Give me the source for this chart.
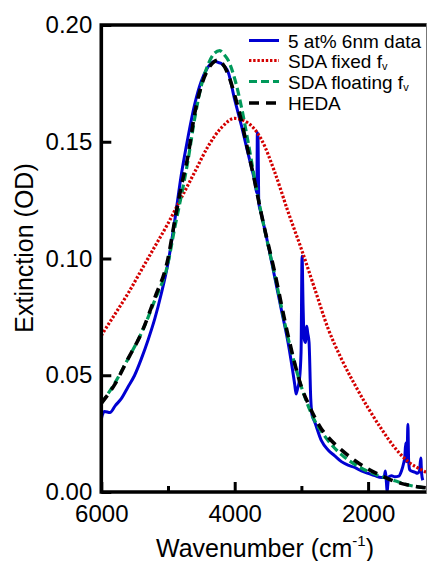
<!DOCTYPE html>
<html>
<head>
<meta charset="utf-8">
<script src="https://cdn.jsdelivr.net/npm/d3@7"></script>
<style>
    body { margin: 0; background: #fff; }
    svg { display: block; font-family: 'Liberation Sans', Arial, sans-serif; }
</style>
</head>
<body>
<div id="chart"></div>
<script>
// [wavenumber (cm-1), extinction (OD)]
const measured = [
    [6000, 0.031], [5985, 0.033], [5950, 0.0345], [5870, 0.034], [5790, 0.037],
    [5700, 0.040], [5600, 0.045], [5500, 0.050], [5400, 0.057], [5300, 0.065],
    [5200, 0.074], [5100, 0.085], [5000, 0.098], [4900, 0.116], [4800, 0.136],
    [4700, 0.152], [4600, 0.166], [4500, 0.176], [4400, 0.182], [4300, 0.1845],
    [4250, 0.184], [4200, 0.1835], [4100, 0.180], [4000, 0.168], [3900, 0.157],
    [3800, 0.145], [3700, 0.133], [3668, 0.128], [3660, 0.154], [3650, 0.152],
    [3640, 0.124], [3600, 0.119], [3500, 0.106], [3400, 0.092], [3300, 0.078],
    [3200, 0.064], [3100, 0.046], [3080, 0.042], [3060, 0.044], [3030, 0.048],
    [3005, 0.060], [2990, 0.101], [2975, 0.080], [2960, 0.066], [2940, 0.064],
    [2920, 0.071], [2905, 0.068], [2885, 0.064], [2860, 0.040], [2840, 0.033],
    [2800, 0.030], [2700, 0.022], [2600, 0.018], [2500, 0.0155], [2400, 0.013],
    [2300, 0.0115], [2200, 0.0105], [2100, 0.009], [2000, 0.008], [1900, 0.007],
    [1800, 0.0062], [1760, 0.0065], [1740, 0.009], [1725, 0.004], [1715, 0.0],
    [1705, 0.003], [1690, 0.0065], [1650, 0.007], [1600, 0.0065], [1540, 0.0068],
    [1500, 0.009], [1470, 0.012], [1450, 0.015], [1435, 0.021], [1425, 0.013],
    [1415, 0.016], [1403, 0.029], [1392, 0.013], [1375, 0.0095], [1350, 0.009],
    [1300, 0.0085], [1260, 0.008], [1230, 0.009], [1210, 0.0146], [1198, 0.008],
    [1180, 0.005]
];

const sdaFixed = [
    [6000, 0.067], [5800, 0.076], [5600, 0.085], [5400, 0.095], [5200, 0.105],
    [5000, 0.115], [4800, 0.126], [4600, 0.137], [4400, 0.148], [4200, 0.156],
    [4000, 0.160], [3800, 0.158], [3600, 0.151], [3400, 0.137], [3200, 0.120],
    [3000, 0.104], [2800, 0.087], [2600, 0.070], [2400, 0.057], [2200, 0.046],
    [2000, 0.036], [1800, 0.027], [1600, 0.019], [1400, 0.013], [1200, 0.0095],
    [1100, 0.008]
];

const sdaFloating = [
    [6000, 0.038], [5800, 0.0465], [5600, 0.057], [5400, 0.068], [5200, 0.082],
    [5000, 0.098], [4900, 0.113], [4800, 0.127], [4700, 0.142], [4600, 0.160],
    [4500, 0.174], [4400, 0.183], [4300, 0.188], [4224, 0.189], [4150, 0.187],
    [4100, 0.185], [4000, 0.177], [3900, 0.165], [3800, 0.150], [3700, 0.134],
    [3600, 0.119], [3400, 0.093], [3200, 0.066], [3000, 0.045], [2900, 0.037],
    [2800, 0.0305], [2700, 0.026], [2600, 0.022], [2400, 0.016], [2200, 0.0118],
    [2000, 0.0088], [1800, 0.0066], [1600, 0.0048], [1400, 0.003], [1200, 0.002],
    [1100, 0.0017]
];

const heda = [
    [6000, 0.038], [5800, 0.046], [5600, 0.057], [5400, 0.068], [5200, 0.083],
    [5000, 0.100], [4900, 0.116], [4800, 0.131], [4700, 0.144], [4600, 0.162],
    [4500, 0.174], [4400, 0.181], [4300, 0.1845], [4250, 0.185], [4200, 0.184],
    [4100, 0.179], [4000, 0.170], [3900, 0.159], [3800, 0.146], [3700, 0.133],
    [3600, 0.119], [3400, 0.094], [3200, 0.067], [3000, 0.045], [2900, 0.038],
    [2800, 0.032], [2700, 0.027], [2600, 0.0235], [2400, 0.018], [2200, 0.0135],
    [2000, 0.0098], [1800, 0.007], [1600, 0.0045], [1400, 0.003], [1200, 0.002],
    [1100, 0.0017]
];

const seriesNames = ['5 at% 6nm data', 'SDA fixed f', 'SDA floating f', 'HEDA'];
const seriesSubs = ['', 'v', 'v', ''];
const xTicks = [6000, 5000, 4000, 3000, 2000, 1000];
const xLabelled = [6000, 4000, 2000];
const yTicks = [0, 0.05, 0.1, 0.15, 0.2];

const width = 427;
const height = 561;
const margin = { top: 25, left: 101.3, bottom: 69 };

const svg = d3
    .select('#chart')
    .append('svg')
    .attr('width', width)
    .attr('height', height);

const xScale = d3
    .scaleLinear()
    .domain([6000, 1000])
    .range([margin.left, margin.left + 5 * 66.7]);

const yScale = d3
    .scaleLinear()
    .domain([0, 0.2])
    .range([height - margin.bottom, margin.top]);

svg.append('clipPath')
    .attr('id', 'plot-clip')
    .append('rect')
    .attr('x', xScale(6000))
    .attr('y', yScale(0.2))
    .attr('width', width - xScale(6000))
    .attr('height', yScale(0) - yScale(0.2));

const series = [
    { data: measured, color: '#0000d2', width: 3, dash: null },
    { data: sdaFixed, color: '#d40000', width: 3.2, dash: '2.4,1.8' },
    { data: sdaFloating, color: '#00995a', width: 3.2, dash: '8,4' },
    { data: heda, color: '#000000', width: 3.6, dash: '10,7' },
];

const line = d3
    .line()
    .x((d) => xScale(d[0]))
    .y((d) => yScale(d[1]))
    .curve(d3.curveMonotoneX);

svg.append('g')
    .attr('clip-path', 'url(#plot-clip)')
    .selectAll('path')
    .data(series)
    .join('path')
    .attr('d', (s) => line(s.data))
    .attr('fill', 'none')
    .attr('stroke', (s) => s.color)
    .attr('stroke-width', (s) => s.width)
    .attr('stroke-dasharray', (s) => s.dash)
    .attr('stroke-linejoin', 'round');

// axes, ticks point inwards
const yAxis = svg
    .append('g')
    .attr('transform', `translate(${xScale(6000)},0)`)
    .call(
        d3
            .axisLeft(yScale)
            .tickValues(yTicks)
            .tickSizeInner(-10)
            .tickSizeOuter(0)
            .tickPadding(9)
            .tickFormat(d3.format('.2f'))
    );

const xAxis = svg
    .append('g')
    .attr('transform', `translate(0,${yScale(0)})`)
    .call(
        d3
            .axisBottom(xScale)
            .tickValues(xTicks)
            .tickSizeInner(-10)
            .tickSizeOuter(0)
            .tickPadding(13)
            .tickFormat((d) => (xLabelled.includes(d) ? d : ''))
    );

xAxis
    .selectAll('.tick line')
    .attr('y2', (d) => (xLabelled.includes(d) ? -10 : -6));

[xAxis, yAxis].forEach((ax) => {
    ax.select('.domain').remove();
    ax.selectAll('.tick line').attr('stroke', '#000').attr('stroke-width', 3);
    ax.selectAll('.tick text')
        .attr('fill', '#000')
        .attr('font-size', '24px')
        .attr('font-family', "'Liberation Sans', Arial, sans-serif");
});

svg.append('path')
    .attr(
        'd',
        `M${width},${yScale(0.2)}H${xScale(6000)}V${yScale(0)}H${width}`
    )
    .attr('fill', 'none')
    .attr('stroke', '#000')
    .attr('stroke-width', 3.6)
    .attr('stroke-linecap', 'square');

svg.append('line')
    .attr('x1', 426.5)
    .attr('x2', 426.5)
    .attr('y1', yScale(0.2) - 2)
    .attr('y2', yScale(0) + 2)
    .attr('stroke', '#777')
    .attr('stroke-width', 1);

// axis titles
const xTitle = svg
    .append('text')
    .attr('x', 265)
    .attr('y', 557)
    .attr('text-anchor', 'middle')
    .attr('font-size', '25px');
xTitle.append('tspan').text('Wavenumber (cm');
xTitle.append('tspan').attr('font-size', '15px').attr('dy', -11).text('-1');
xTitle.append('tspan').attr('dy', 11).text(')');

svg.append('text')
    .attr('transform', 'translate(33,248) rotate(-90)')
    .attr('text-anchor', 'middle')
    .attr('font-size', '25px')
    .text('Extinction (OD)');

// legend
const legendY = [40.5, 60.5, 81.5, 103];
const legend = svg
    .append('g')
    .selectAll('g')
    .data(series)
    .join('g')
    .attr('transform', (_, i) => `translate(249,${legendY[i]})`);

legend
    .append('line')
    .attr('x1', 0)
    .attr('x2', 30)
    .attr('stroke', (s) => s.color)
    .attr('stroke-width', (s) => s.width)
    .attr('stroke-dasharray', (s) => s.dash);

const legendText = legend
    .append('text')
    .attr('x', 39)
    .attr('y', 7)
    .attr('font-size', '19px');
legendText.append('tspan').text((_, i) => seriesNames[i]);
legendText
    .append('tspan')
    .attr('font-size', '11px')
    .attr('dy', 2)
    .text((_, i) => seriesSubs[i]);
</script>
</body>
</html>
